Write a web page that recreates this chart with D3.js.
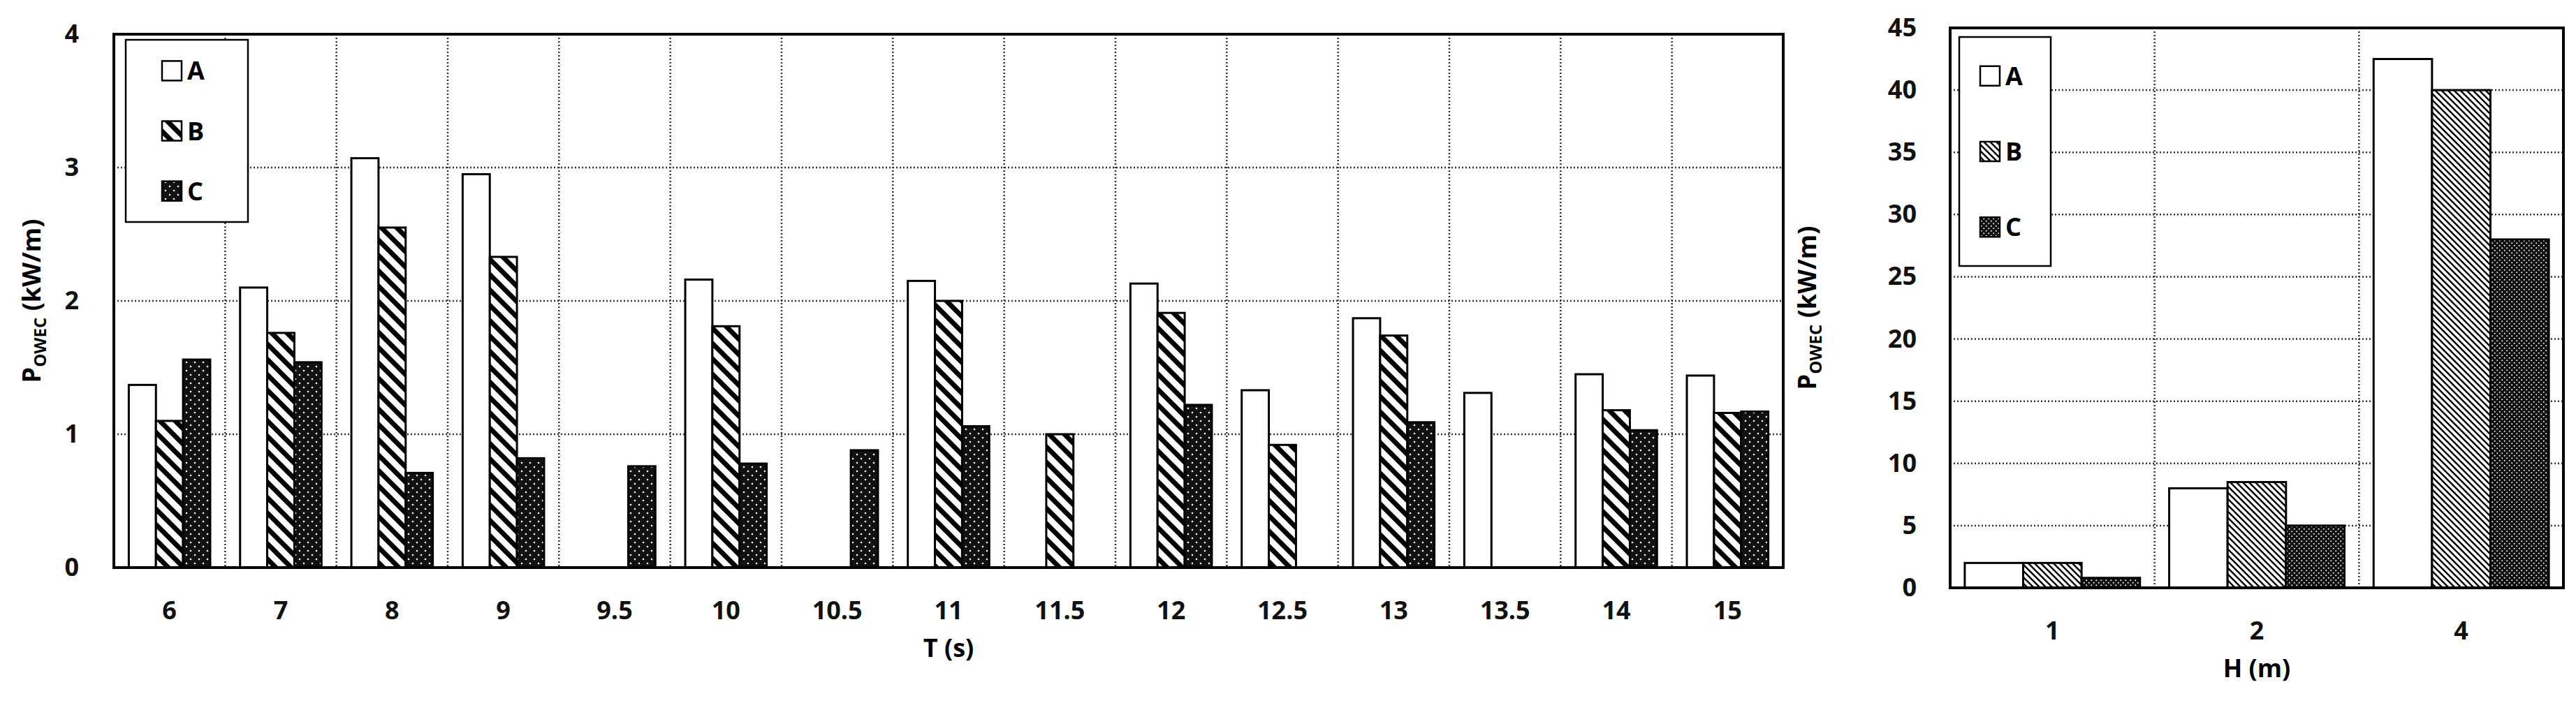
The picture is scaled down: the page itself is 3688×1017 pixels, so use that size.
<!DOCTYPE html>
<html><head><meta charset="utf-8">
<script src="https://cdn.jsdelivr.net/npm/d3@7"></script>
<style>body{margin:0;background:#fff}text{font-family:"Open Sans",sans-serif;font-weight:bold}</style>
</head><body><svg width="3688" height="1017"></svg>
<script>
var periods = ["6","7","8","9","9.5","10","10.5","11","11.5","12","12.5","13","13.5","14","15"];
var tA = [1.37,2.1,3.07,2.95,0,2.16,0,2.15,0,2.13,1.33,1.87,1.31,1.45,1.44];
var tB = [1.1,1.76,2.55,2.33,0,1.81,0,2.0,1.0,1.91,0.92,1.74,0,1.18,1.16];
var tC = [1.56,1.54,0.71,0.82,0.76,0.78,0.88,1.06,0,1.22,0,1.09,0,1.03,1.17];
var heights = ["1","2","4"];
var hA = [2,8,42.5];
var hB = [2,8.5,40];
var hC = [0.8,5,28];
var series = ["A","B","C"];

var svg = d3.select("svg");
var defs = svg.append("defs");
function stripe(id, size, w) {
    var p = defs.append("pattern").attr("id", id).attr("patternUnits", "userSpaceOnUse")
        .attr("width", size).attr("height", size);
    p.append("rect").attr("width", size).attr("height", size).attr("fill", "#fff");
    p.append("path").attr("d", "M0,0L" + size + "," + size + "M" + (-size) + ",0L" + size + "," + (2*size) + "M0," + (-size) + "L" + (2*size) + "," + size)
        .attr("stroke", "#000").attr("stroke-width", w);
}
function dots(id, size, r) {
    var p = defs.append("pattern").attr("id", id).attr("patternUnits", "userSpaceOnUse")
        .attr("width", size).attr("height", size);
    p.append("rect").attr("width", size).attr("height", size).attr("fill", "#111");
    p.append("circle").attr("cx", size/4).attr("cy", size/4).attr("r", r).attr("fill", "#fff");
    p.append("circle").attr("cx", 3*size/4).attr("cy", 3*size/4).attr("r", r).attr("fill", "#fff");
}
stripe("stripeL", 22, 7);
stripe("stripeR", 9, 2.5);
dots("dotL", 12, 1.3);
dots("dotR", 7, 1);

function chart(o) {
    var x = d3.scaleBand().domain(o.cats).range([o.x0, o.x1]);
    var y = d3.scaleLinear().domain([0, o.ymax]).range([o.y1, o.y0]);
    var g = svg.append("g");
    // grid
    g.selectAll(".hg").data(y.ticks(o.ymax / o.step).slice(1, -1)).enter().append("line")
        .attr("x1", o.x0).attr("x2", o.x1).attr("y1", d => y(d)).attr("y2", d => y(d))
        .attr("stroke", "#333").attr("stroke-width", 2.5).attr("stroke-dasharray", "2,3");
    g.selectAll(".vg").data(o.cats.slice(1)).enter().append("line")
        .attr("x1", d => x(d)).attr("x2", d => x(d)).attr("y1", o.y0).attr("y2", o.y1)
        .attr("stroke", "#333").attr("stroke-width", 2.5).attr("stroke-dasharray", "2,3");
    // bars
    var inner = d3.scaleBand().domain(series).range([0, x.bandwidth()]).paddingOuter(o.pad);
    var fills = ["#fff", "url(#" + o.stripe + ")", "url(#" + o.dot + ")"];
    o.vals.forEach(function(vals, si) {
        g.selectAll(".b" + si).data(vals.map((v, i) => [o.cats[i], v]).filter(d => d[1] > 0))
            .enter().append("rect")
            .attr("x", d => x(d[0]) + inner(series[si]))
            .attr("width", inner.bandwidth())
            .attr("y", d => y(d[1])).attr("height", d => y(0) - y(d[1]))
            .attr("fill", fills[si]).attr("stroke", "#000").attr("stroke-width", 3);
    });
    g.append("rect").attr("x", o.x0).attr("y", o.y0).attr("width", o.x1 - o.x0).attr("height", o.y1 - o.y0)
        .attr("fill", "none").attr("stroke", "#000").attr("stroke-width", 4);
    // axes
    var ya = g.append("g").attr("transform", "translate(" + o.x0 + ",0)")
        .call(d3.axisLeft(y).ticks(o.ymax / o.step).tickSize(0).tickPadding(o.ypad));
    var xa = g.append("g").attr("transform", "translate(0," + o.y1 + ")")
        .call(d3.axisBottom(x).tickSize(0).tickPadding(48));
    [ya, xa].forEach(a => { a.select(".domain").remove(); a.selectAll("text").attr("font-size", 36).attr("font-family", "Open Sans").attr("font-weight", "bold").attr("fill", "#111"); });
    g.append("text").attr("x", (o.x0 + o.x1) / 2).attr("y", o.y1 + 128).attr("text-anchor", "middle")
        .attr("font-size", 36).text(o.xlabel);
    var yl = g.append("text").attr("transform", "translate(" + o.ylx + "," + ((o.y0 + o.y1) / 2) + ") rotate(-90)")
        .attr("text-anchor", "middle").attr("font-size", 36);
    yl.append("tspan").text("P");
    yl.append("tspan").attr("font-size", 24).attr("dy", 8).text("OWEC");
    yl.append("tspan").attr("dy", -8).text(" (kW/m)");
    // legend
    var L = o.legend;
    g.append("rect").attr("x", L[0]).attr("y", L[1]).attr("width", L[2]).attr("height", L[3])
        .attr("fill", "#fff").attr("stroke", "#000").attr("stroke-width", 2.5);
    series.forEach(function(s, i) {
        var cy = L[1] + L[3] * (0.17 + i * 0.33);
        g.append("rect").attr("x", L[0] + L[4]).attr("y", cy - 14).attr("width", 28).attr("height", 28)
            .attr("fill", fills[i]).attr("stroke", "#000").attr("stroke-width", 2.5);
        g.append("text").attr("x", L[0] + L[4] + 36).attr("y", cy + 13).attr("font-size", 36).text(s);
    });
}

chart({cats: periods, vals: [tA, tB, tC], x0: 163, x1: 2553, y0: 49, y1: 813, ymax: 4, step: 1,
    pad: 0.55, stripe: "stripeL", dot: "dotL", xlabel: "T (s)", ylx: 58, ypad: 50,
    legend: [180, 57, 175, 261, 52]});
chart({cats: heights, vals: [hA, hB, hC], x0: 2792, x1: 3670, y0: 40, y1: 842, ymax: 45, step: 5,
    pad: 0.25, stripe: "stripeR", dot: "dotR", xlabel: "H (m)", ylx: 2600, ypad: 48,
    legend: [2805, 53, 131, 328, 30]});
</script></body></html>
